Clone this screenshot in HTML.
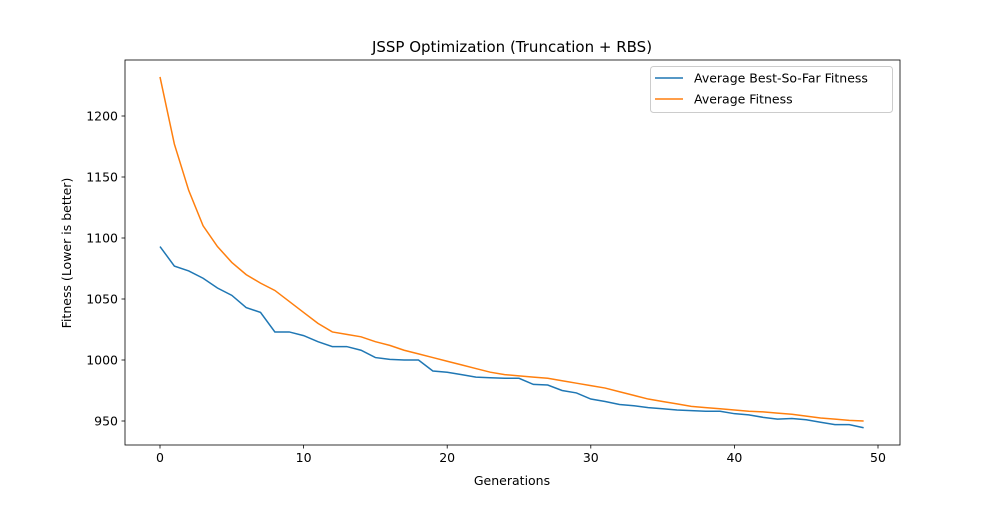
<!DOCTYPE html>
<html><head><meta charset="utf-8"><style>
body{margin:0;background:#fff;font-family:"Liberation Sans","DejaVu Sans",sans-serif;}
svg text{font-family:"DejaVu Sans","Liberation Sans",sans-serif;}
</style></head><body>
<svg id="chart" width="1000" height="500" xmlns="http://www.w3.org/2000/svg">
<rect width="1000" height="500" fill="#fff"/>
<g id="plot"></g>
</svg>
<script>
const generations=[...Array(50).keys()];
const bestSoFar=[1093,1077,1073,1067,1059,1053,1043,1039,1023,1023,1020,1015,1011,1011,1008,1002,1000.5,1000,1000,991,990,988,986,985.5,985,985,980,979.5,975,973,968,966,963.5,962.5,961,960,959,958.5,958,958,956,955,953,951.5,952,951,949,947,947,944.5];
const avgFitness=[1232,1177,1139,1110,1093,1080,1070,1063,1057,1048,1039,1030,1023,1021,1019,1015,1012,1008,1005,1002,999,996,993,990,988,987,986,985,983,981,979,977,974,971,968,966,964,962,961,960,959,958,957.5,956.5,955.5,954,952.5,951.5,950.5,950];
const xTicks=[0,10,20,30,40,50];
const yTicks=[950,1000,1050,1100,1150,1200];

const L=125,R=900,T=60,B=445;
const xs=v=>160+v*14.36;
const ys=v=>421-(v-950)*1.22;
const g=document.getElementById('plot');
const NS='http://www.w3.org/2000/svg';
function mk(tag,attrs,parent){const e=document.createElementNS(NS,tag);for(const k in attrs)e.setAttribute(k,attrs[k]);(parent||g).appendChild(e);return e;}

xTicks.forEach(t=>{
  const x=xs(t);
  const tk=mk('line',{x1:x,x2:x,y1:B,y2:B+3.5,stroke:'#000','stroke-width':0.8});
  
  
  const tx=mk('text',{x:x,y:B+17,'font-size':12.5,'text-anchor':'middle',fill:'#000'});
  tx.textContent=t;
  
  
});
yTicks.forEach(t=>{
  const y=ys(t);
  const tk=mk('line',{x1:L-3.5,x2:L,y1:y,y2:y,stroke:'#000','stroke-width':0.8});
  
  
  const tx=mk('text',{x:L-7,y:y+4.5,'font-size':12.5,'text-anchor':'end',fill:'#000'});
  tx.textContent=t;
  
  
});

function line(data,color,name){
  const p=mk('polyline',{points:data.map((v,i)=>xs(generations[i])+','+ys(v)).join(' '),fill:'none',stroke:color,'stroke-width':1.5});
  
  
}
line(bestSoFar,'#1f77b4','best-so-far-line');
line(avgFitness,'#ff7f0e','average-fitness-line');

const fr=mk('rect',{x:L,y:T,width:R-L,height:B-T,fill:'none',stroke:'#000','stroke-width':0.8});



const title=mk('text',{x:512,y:52,'font-size':15,'text-anchor':'middle'});
title.textContent='JSSP Optimization (Truncation + RBS)';


const xl=mk('text',{x:512,y:485,'font-size':12.5,'text-anchor':'middle'});
xl.textContent='Generations';


const yl=mk('text',{x:0,y:0,'font-size':12.5,'text-anchor':'middle',transform:'translate(71,253) rotate(-90)'});
yl.textContent='Fitness (Lower is better)';



const lg=mk('g',{});


mk('rect',{x:650.5,y:66.5,width:242,height:46,rx:3,fill:'#fff',stroke:'#ccc'},lg);
[['Average Best-So-Far Fitness','#1f77b4'],['Average Fitness','#ff7f0e']].forEach((e,i)=>{
  const y=78+i*21;
  const ent=mk('g',{},lg);
  
  
  mk('line',{x1:655,x2:683,y1:y,y2:y,stroke:e[1],'stroke-width':1.5},ent);
  const t=mk('text',{x:694,y:y+4.5,'font-size':12.5},ent);
  t.textContent=e[0];
});
</script>
</body></html>
